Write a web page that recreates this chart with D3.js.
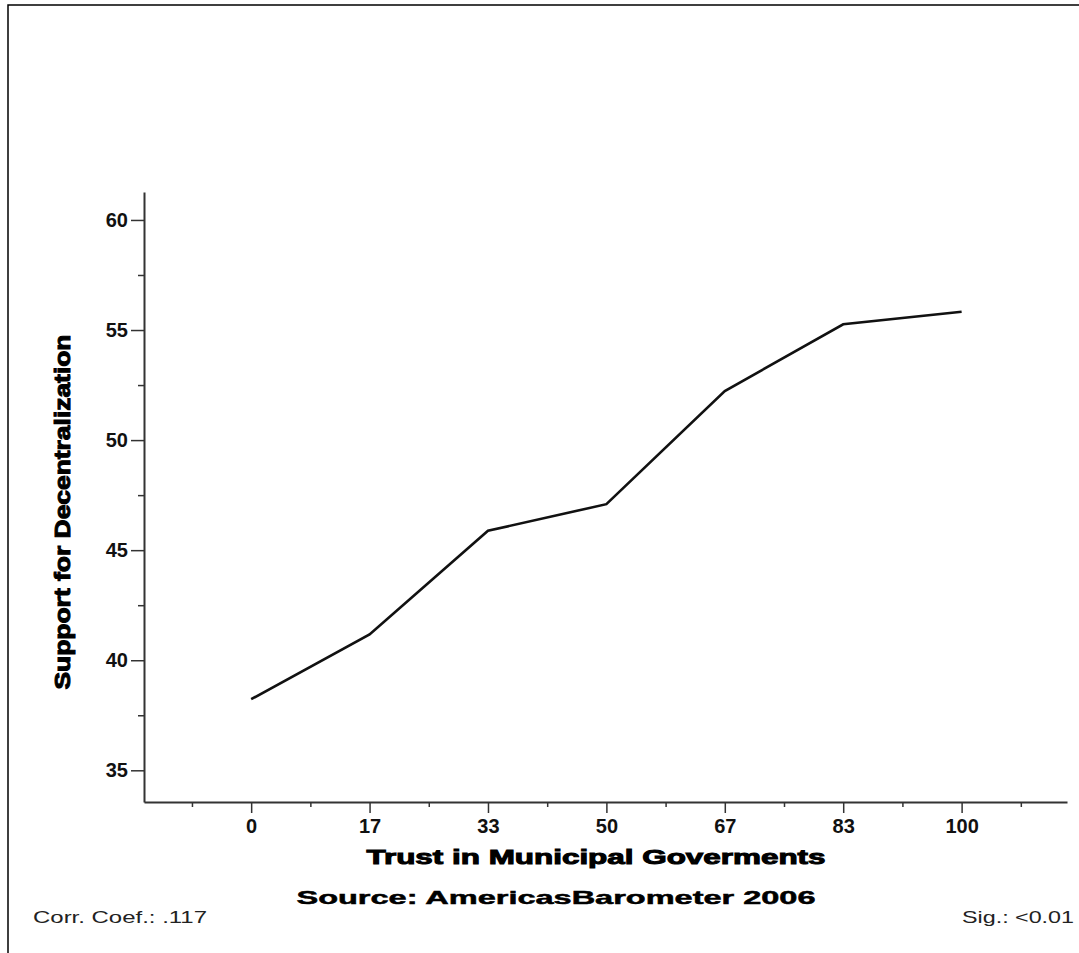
<!DOCTYPE html>
<html>
<head>
<meta charset="utf-8">
<script src="https://cdn.jsdelivr.net/npm/d3@7"></script>
<style>
  html, body { margin: 0; padding: 0; background: #fff; overflow: hidden; }
  svg { display: block; }
</style>
</head>
<body>
<script>
// ---- data ----
const categories = ["0", "17", "33", "50", "67", "83", "100"];
const support = [38.23, 41.17, 45.88, 47.09, 52.23, 55.26, 55.83];
const yTicks = [35, 40, 45, 50, 55, 60];
const yMinorTicks = [37.5, 42.5, 47.5, 52.5, 57.5];
const xTitle = "Trust in Municipal Goverments";
const yTitle = "Support for Decentralization";
const sourceText = "Source: AmericasBarometer 2006";
const corrText = "Corr. Coef.: .117";
const sigText = "Sig.: <0.01";

const W = 1079, H = 953;
const svg = d3.select("body").append("svg").attr("width", W).attr("height", H);

// frame (top and left edges only visible)
svg.append("path").attr("d", d3.line()([[8, H], [8, 5], [W, 5]]))
  .attr("fill", "none").attr("stroke", "#000").attr("stroke-width", 1.5);

const x = d3.scaleLinear().domain([-0.905, 6.89]).range([144, 1067]);
const y = d3.scaleLinear().domain([33.56, 61.27]).range([802, 192]);

const axisColor = "#333";
const font = "'Liberation Sans', Arial, sans-serif";

// Y axis
const yAxis = svg.append("g").attr("transform", "translate(144,0)")
  .call(d3.axisLeft(y).tickValues(yTicks).tickSizeInner(13).tickSizeOuter(0).tickPadding(3)
    .tickFormat(d3.format("d")));
yAxis.select(".domain").attr("stroke", axisColor).attr("stroke-width", 2);
yAxis.selectAll(".tick line").attr("stroke", axisColor).attr("stroke-width", 1.5);
yAxis.selectAll(".tick text").attr("font-family", font).attr("font-weight", "bold")
  .attr("font-size", 20).attr("fill", "#111");
const yMinor = svg.append("g").attr("transform", "translate(144,0)")
  .call(d3.axisLeft(y).tickValues(yMinorTicks).tickSize(6).tickFormat(""));
yMinor.select(".domain").remove();
yMinor.selectAll(".tick line").attr("stroke", axisColor).attr("stroke-width", 1.5);

// X axis
const xAxis = svg.append("g").attr("transform", "translate(0,802)")
  .call(d3.axisBottom(x).tickValues(d3.range(categories.length)).tickSizeInner(11).tickSizeOuter(0)
    .tickPadding(6).tickFormat(i => categories[i]));
xAxis.select(".domain").attr("stroke", axisColor).attr("stroke-width", 2);
xAxis.selectAll(".tick line").attr("stroke", axisColor).attr("stroke-width", 1.5);
xAxis.selectAll(".tick text").attr("font-family", font).attr("font-weight", "bold")
  .attr("font-size", 20).attr("fill", "#111");
const xMinor = svg.append("g").attr("transform", "translate(0,802)")
  .call(d3.axisBottom(x).tickValues(d3.range(-0.5, categories.length, 1)).tickSize(5).tickFormat(""));
xMinor.select(".domain").remove();
xMinor.selectAll(".tick line").attr("stroke", axisColor).attr("stroke-width", 1.5);

// line
const line = d3.line().x((d, i) => x(i)).y(d => y(d));
svg.append("path").datum(support).attr("d", line)
  .attr("fill", "none").attr("stroke", "#111").attr("stroke-width", 2.6)
  .attr("stroke-linejoin", "miter");

// titles
svg.append("text").attr("x", 596).attr("y", 864).attr("text-anchor", "middle")
  .attr("font-family", font).attr("font-weight", "bold").attr("font-size", 21)
  .attr("fill", "#000").attr("stroke", "#000").attr("stroke-width", 1)
  .attr("textLength", 459).attr("lengthAdjust", "spacingAndGlyphs").text(xTitle);

svg.append("text").attr("transform", "translate(70,512) rotate(-90)").attr("text-anchor", "middle")
  .attr("font-family", font).attr("font-weight", "bold").attr("font-size", 22)
  .attr("fill", "#000").attr("stroke", "#000").attr("stroke-width", 1)
  .attr("textLength", 355).attr("lengthAdjust", "spacingAndGlyphs").text(yTitle);

svg.append("text").attr("x", 556).attr("y", 904).attr("text-anchor", "middle")
  .attr("font-family", font).attr("font-weight", "bold").attr("font-size", 19)
  .attr("fill", "#000").attr("stroke", "#000").attr("stroke-width", 0.5)
  .attr("textLength", 519).attr("lengthAdjust", "spacingAndGlyphs").text(sourceText);

svg.append("text").attr("x", 33).attr("y", 923)
  .attr("font-family", font).attr("font-size", 17).attr("fill", "#222")
  .attr("textLength", 174).attr("lengthAdjust", "spacingAndGlyphs").text(corrText);

svg.append("text").attr("x", 962).attr("y", 923)
  .attr("font-family", font).attr("font-size", 17).attr("fill", "#222")
  .attr("textLength", 112).attr("lengthAdjust", "spacingAndGlyphs").text(sigText);
</script>
</body>
</html>
